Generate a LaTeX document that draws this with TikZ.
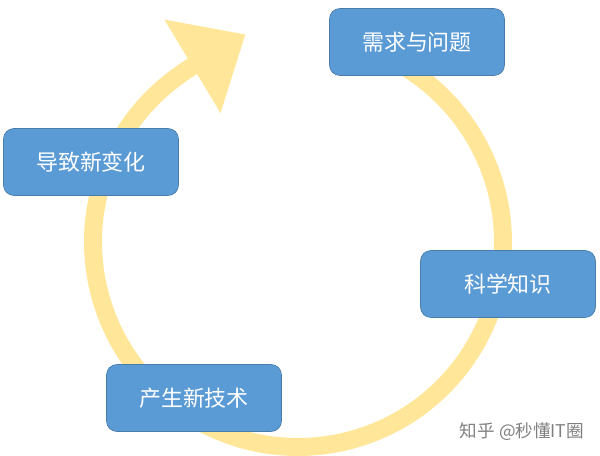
\documentclass[tikz,border=0pt]{standalone}
\usepackage{fontspec}
\setmainfont{Noto Sans CJK SC}
\usetikzlibrary{arrows.meta}
\definecolor{boxblue}{HTML}{5B9BD5}
\definecolor{cycleyellow}{HTML}{FFE699}
\begin{document}
\begin{tikzpicture}
            [x=0.02cm, y=0.02cm,
             stage/.style={shape=rectangle, rounded corners=6pt, fill=boxblue, draw=boxblue!80!black,
                           text=white, minimum width=3.5cm, minimum height=1.34cm, font=\fontsize{12.5}{14}\selectfont}]
            \useasboundingbox (0, 0) rectangle (600, 456);
            \coordinate (mid) at (298, 214);
            \draw[cycleyellow, line width=0.36cm, shorten >=-1.24cm, -{Triangle[length=1.24cm, width=2.1cm]}]
                ([shift={(60:4.1cm)}]mid) arc[start angle=60, end angle=-239, radius=4.1cm];
            \node[stage] (need) at (417, 414) {需求与问题};
            \node[stage] (change) at (91, 294) {导致新变化};
            \node[stage] (science) at (508, 172) {科学知识};
            \node[stage] (tech) at (194, 58) {产生新技术};
            \node[text=gray, font=\fontsize{10}{12}\selectfont] (mark) at (522, 24) {知乎 @秒懂IT圈};
        \end{tikzpicture}
\end{document}
